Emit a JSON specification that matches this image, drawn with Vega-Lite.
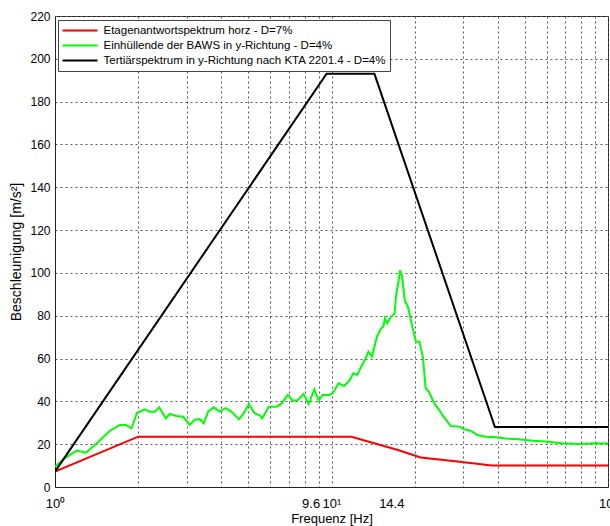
{
  "$schema": "https://vega.github.io/schema/vega-lite/v6.json",
  "width": 553,
  "height": 471,
  "autosize": "none",
  "padding": {"left": 55, "top": 16, "right": 2, "bottom": 39},
  "background": "white",
  "config": {
    "font": "Liberation Sans",
    "view": {"stroke": "#222", "strokeWidth": 1}
  },
  "data": {
    "values": [
      {"s": "Etagenantwortspektrum horz - D=7%", "f": 1, "a": 7.2},
      {"s": "Etagenantwortspektrum horz - D=7%", "f": 2, "a": 23.5},
      {"s": "Etagenantwortspektrum horz - D=7%", "f": 11.8, "a": 23.5},
      {"s": "Etagenantwortspektrum horz - D=7%", "f": 17.4, "a": 17.3},
      {"s": "Etagenantwortspektrum horz - D=7%", "f": 21, "a": 13.8},
      {"s": "Etagenantwortspektrum horz - D=7%", "f": 27.5, "a": 12.2},
      {"s": "Etagenantwortspektrum horz - D=7%", "f": 38, "a": 10},
      {"s": "Etagenantwortspektrum horz - D=7%", "f": 100, "a": 10},

      {"s": "Einhüllende der BAWS in y-Richtung - D=4%", "f": 1, "a": 9.5},
      {"s": "Einhüllende der BAWS in y-Richtung - D=4%", "f": 1.087, "a": 13.5},
      {"s": "Einhüllende der BAWS in y-Richtung - D=4%", "f": 1.198, "a": 17},
      {"s": "Einhüllende der BAWS in y-Richtung - D=4%", "f": 1.294, "a": 16},
      {"s": "Einhüllende der BAWS in y-Richtung - D=4%", "f": 1.433, "a": 21},
      {"s": "Einhüllende der BAWS in y-Richtung - D=4%", "f": 1.58, "a": 26.3},
      {"s": "Einhüllende der BAWS in y-Richtung - D=4%", "f": 1.717, "a": 29},
      {"s": "Einhüllende der BAWS in y-Richtung - D=4%", "f": 1.804, "a": 29},
      {"s": "Einhüllende der BAWS in y-Richtung - D=4%", "f": 1.892, "a": 27.4},
      {"s": "Einhüllende der BAWS in y-Richtung - D=4%", "f": 1.98, "a": 34.7},
      {"s": "Einhüllende der BAWS in y-Richtung - D=4%", "f": 2.113, "a": 36.3},
      {"s": "Einhüllende der BAWS in y-Richtung - D=4%", "f": 2.2, "a": 35.2},
      {"s": "Einhüllende der BAWS in y-Richtung - D=4%", "f": 2.297, "a": 35.2},
      {"s": "Einhüllende der BAWS in y-Richtung - D=4%", "f": 2.381, "a": 37.2},
      {"s": "Einhüllende der BAWS in y-Richtung - D=4%", "f": 2.516, "a": 32.1},
      {"s": "Einhüllende der BAWS in y-Richtung - D=4%", "f": 2.6, "a": 34.1},
      {"s": "Einhüllende der BAWS in y-Richtung - D=4%", "f": 2.75, "a": 33.2},
      {"s": "Einhüllende der BAWS in y-Richtung - D=4%", "f": 2.907, "a": 32.8},
      {"s": "Einhüllende der BAWS in y-Richtung - D=4%", "f": 3.07, "a": 29},
      {"s": "Einhüllende der BAWS in y-Richtung - D=4%", "f": 3.2, "a": 31.4},
      {"s": "Einhüllende der BAWS in y-Richtung - D=4%", "f": 3.34, "a": 31.7},
      {"s": "Einhüllende der BAWS in y-Richtung - D=4%", "f": 3.45, "a": 29.7},
      {"s": "Einhüllende der BAWS in y-Richtung - D=4%", "f": 3.58, "a": 35.2},
      {"s": "Einhüllende der BAWS in y-Richtung - D=4%", "f": 3.75, "a": 37.2},
      {"s": "Einhüllende der BAWS in y-Richtung - D=4%", "f": 3.94, "a": 35.2},
      {"s": "Einhüllende der BAWS in y-Richtung - D=4%", "f": 4.14, "a": 36.8},
      {"s": "Einhüllende der BAWS in y-Richtung - D=4%", "f": 4.34, "a": 35.2},
      {"s": "Einhüllende der BAWS in y-Richtung - D=4%", "f": 4.63, "a": 31.6},
      {"s": "Einhüllende der BAWS in y-Richtung - D=4%", "f": 4.81, "a": 34.4},
      {"s": "Einhüllende der BAWS in y-Richtung - D=4%", "f": 5.03, "a": 38.8},
      {"s": "Einhüllende der BAWS in y-Richtung - D=4%", "f": 5.27, "a": 34.4},
      {"s": "Einhüllende der BAWS in y-Richtung - D=4%", "f": 5.49, "a": 33.6},
      {"s": "Einhüllende der BAWS in y-Richtung - D=4%", "f": 5.62, "a": 32.1},
      {"s": "Einhüllende der BAWS in y-Richtung - D=4%", "f": 5.93, "a": 37.5},
      {"s": "Einhüllende der BAWS in y-Richtung - D=4%", "f": 6.33, "a": 37.5},
      {"s": "Einhüllende der BAWS in y-Richtung - D=4%", "f": 6.58, "a": 38.8},
      {"s": "Einhüllende der BAWS in y-Richtung - D=4%", "f": 6.95, "a": 43},
      {"s": "Einhüllende der BAWS in y-Richtung - D=4%", "f": 7.25, "a": 40.3},
      {"s": "Einhüllende der BAWS in y-Richtung - D=4%", "f": 7.56, "a": 40.6},
      {"s": "Einhüllende der BAWS in y-Richtung - D=4%", "f": 7.92, "a": 43.4},
      {"s": "Einhüllende der BAWS in y-Richtung - D=4%", "f": 8.27, "a": 38.8},
      {"s": "Einhüllende der BAWS in y-Richtung - D=4%", "f": 8.67, "a": 45.6},
      {"s": "Einhüllende der BAWS in y-Richtung - D=4%", "f": 8.98, "a": 40.3},
      {"s": "Einhüllende der BAWS in y-Richtung - D=4%", "f": 9.29, "a": 43},
      {"s": "Einhüllende der BAWS in y-Richtung - D=4%", "f": 9.82, "a": 43},
      {"s": "Einhüllende der BAWS in y-Richtung - D=4%", "f": 10.1, "a": 43.8},
      {"s": "Einhüllende der BAWS in y-Richtung - D=4%", "f": 10.6, "a": 48.4},
      {"s": "Einhüllende der BAWS in y-Richtung - D=4%", "f": 11.1, "a": 47.2},
      {"s": "Einhüllende der BAWS in y-Richtung - D=4%", "f": 11.6, "a": 49.7},
      {"s": "Einhüllende der BAWS in y-Richtung - D=4%", "f": 12.0, "a": 53.1},
      {"s": "Einhüllende der BAWS in y-Richtung - D=4%", "f": 12.4, "a": 52.3},
      {"s": "Einhüllende der BAWS in y-Richtung - D=4%", "f": 12.8, "a": 56.2},
      {"s": "Einhüllende der BAWS in y-Richtung - D=4%", "f": 13.3, "a": 60.1},
      {"s": "Einhüllende der BAWS in y-Richtung - D=4%", "f": 13.6, "a": 63.2},
      {"s": "Einhüllende der BAWS in y-Richtung - D=4%", "f": 14.0, "a": 60.9},
      {"s": "Einhüllende der BAWS in y-Richtung - D=4%", "f": 14.6, "a": 70.2},
      {"s": "Einhüllende der BAWS in y-Richtung - D=4%", "f": 15.1, "a": 74.1},
      {"s": "Einhüllende der BAWS in y-Richtung - D=4%", "f": 15.4, "a": 74.9},
      {"s": "Einhüllende der BAWS in y-Richtung - D=4%", "f": 15.6, "a": 78.8},
      {"s": "Einhüllende der BAWS in y-Richtung - D=4%", "f": 15.9, "a": 76.5},
      {"s": "Einhüllende der BAWS in y-Richtung - D=4%", "f": 16.4, "a": 79.5},
      {"s": "Einhüllende der BAWS in y-Richtung - D=4%", "f": 16.9, "a": 80.8},
      {"s": "Einhüllende der BAWS in y-Richtung - D=4%", "f": 17.1, "a": 88.9},
      {"s": "Einhüllende der BAWS in y-Richtung - D=4%", "f": 17.5, "a": 96.7},
      {"s": "Einhüllende der BAWS in y-Richtung - D=4%", "f": 17.7, "a": 101.2},
      {"s": "Einhüllende der BAWS in y-Richtung - D=4%", "f": 18.0, "a": 98.2},
      {"s": "Einhüllende der BAWS in y-Richtung - D=4%", "f": 18.4, "a": 87.3},
      {"s": "Einhüllende der BAWS in y-Richtung - D=4%", "f": 18.9, "a": 84.2},
      {"s": "Einhüllende der BAWS in y-Richtung - D=4%", "f": 19.6, "a": 74.9},
      {"s": "Einhüllende der BAWS in y-Richtung - D=4%", "f": 20.2, "a": 67.9},
      {"s": "Einhüllende der BAWS in y-Richtung - D=4%", "f": 20.8, "a": 67.9},
      {"s": "Einhüllende der BAWS in y-Richtung - D=4%", "f": 21.4, "a": 60.9},
      {"s": "Einhüllende der BAWS in y-Richtung - D=4%", "f": 21.9, "a": 46.1},
      {"s": "Einhüllende der BAWS in y-Richtung - D=4%", "f": 22.5, "a": 44.5},
      {"s": "Einhüllende der BAWS in y-Richtung - D=4%", "f": 23.7, "a": 38.3},
      {"s": "Einhüllende der BAWS in y-Richtung - D=4%", "f": 24.5, "a": 36.2},
      {"s": "Einhüllende der BAWS in y-Richtung - D=4%", "f": 25.2, "a": 33.6},
      {"s": "Einhüllende der BAWS in y-Richtung - D=4%", "f": 27.0, "a": 28.5},
      {"s": "Einhüllende der BAWS in y-Richtung - D=4%", "f": 29.0, "a": 28.2},
      {"s": "Einhüllende der BAWS in y-Richtung - D=4%", "f": 30.2, "a": 27},
      {"s": "Einhüllende der BAWS in y-Richtung - D=4%", "f": 31.9, "a": 26.3},
      {"s": "Einhüllende der BAWS in y-Richtung - D=4%", "f": 33.7, "a": 24.3},
      {"s": "Einhüllende der BAWS in y-Richtung - D=4%", "f": 36.0, "a": 23.5},
      {"s": "Einhüllende der BAWS in y-Richtung - D=4%", "f": 39.3, "a": 23.2},
      {"s": "Einhüllende der BAWS in y-Richtung - D=4%", "f": 42.6, "a": 22.6},
      {"s": "Einhüllende der BAWS in y-Richtung - D=4%", "f": 47.5, "a": 22.3},
      {"s": "Einhüllende der BAWS in y-Richtung - D=4%", "f": 53.3, "a": 21.6},
      {"s": "Einhüllende der BAWS in y-Richtung - D=4%", "f": 59.4, "a": 21.2},
      {"s": "Einhüllende der BAWS in y-Richtung - D=4%", "f": 68, "a": 20.4},
      {"s": "Einhüllende der BAWS in y-Richtung - D=4%", "f": 78.5, "a": 20.1},
      {"s": "Einhüllende der BAWS in y-Richtung - D=4%", "f": 90.3, "a": 20.4},
      {"s": "Einhüllende der BAWS in y-Richtung - D=4%", "f": 100, "a": 20.3},

      {"s": "Tertiärspektrum in y-Richtung nach KTA 2201.4 - D=4%", "f": 1, "a": 7.2},
      {"s": "Tertiärspektrum in y-Richtung nach KTA 2201.4 - D=4%", "f": 9.6, "a": 193},
      {"s": "Tertiärspektrum in y-Richtung nach KTA 2201.4 - D=4%", "f": 14.3, "a": 193},
      {"s": "Tertiärspektrum in y-Richtung nach KTA 2201.4 - D=4%", "f": 39, "a": 28},
      {"s": "Tertiärspektrum in y-Richtung nach KTA 2201.4 - D=4%", "f": 100, "a": 28}
    ]
  },
  "mark": {"type": "line", "strokeWidth": 2, "clip": true},
  "encoding": {
    "x": {
      "field": "f",
      "type": "quantitative",
      "scale": {"type": "log", "domain": [1, 100], "nice": false},
      "axis": {
        "values": [1, 2, 3, 4, 5, 6, 7, 8, 9, 9.6, 10, 14.4, 20, 30, 40, 50, 60, 70, 80, 90, 100],
        "labelExpr": "datum.value == 1 ? '10⁰' : datum.value == 10 ? '10¹' : datum.value == 100 ? '10²' : datum.value == 9.6 ? '9.6' : datum.value == 14.4 ? '14.4' : ''",
        "grid": true,
        "gridColor": "#555",
        "gridDash": [2, 3],
        "gridWidth": 1,
        "gridOpacity": {"condition": {"test": "datum.value == 9.6 || datum.value == 14.4", "value": 0}, "value": 1},
        "ticks": false,
        "domainColor": "#222",
        "labelOverlap": false,
        "labelFlush": false,
        "labelBound": false,
        "labelFontSize": 13,
        "labelColor": "#000",
        "labelPadding": 10,
        "labelOffset": {"condition": [{"test": "datum.value == 9.6", "value": -16}, {"test": "datum.value == 14.4", "value": 16}], "value": 0},
        "title": "Frequenz [Hz]",
        "titleFontSize": 13,
        "titleFontWeight": "normal",
        "titleColor": "#000",
        "titlePadding": 2
      }
    },
    "y": {
      "field": "a",
      "type": "quantitative",
      "scale": {"domain": [0, 220], "nice": false},
      "axis": {
        "values": [0, 20, 40, 60, 80, 100, 120, 140, 160, 180, 200, 220],
        "grid": true,
        "gridColor": "#555",
        "gridDash": [2, 3],
        "gridWidth": 1,
        "ticks": false,
        "domainColor": "#222",
        "labelFontSize": 12,
        "labelColor": "#000",
        "labelPadding": 5,
        "labelOverlap": false,
        "labelFlush": false,
        "title": "Beschleunigung [m/s²]",
        "titleFontSize": 14,
        "titleFontWeight": "normal",
        "titleColor": "#000",
        "titlePadding": 6
      }
    },
    "color": {
      "field": "s",
      "type": "nominal",
      "sort": null,
      "scale": {
        "domain": ["Etagenantwortspektrum horz - D=7%", "Einhüllende der BAWS in y-Richtung - D=4%", "Tertiärspektrum in y-Richtung nach KTA 2201.4 - D=4%"],
        "range": ["#ff0000", "#00ff00", "#000000"]
      },
      "legend": {
        "title": null,
        "orient": "none",
        "legendX": 3,
        "legendY": 4,
        "symbolType": "stroke",
        "symbolSize": 1225,
        "symbolStrokeWidth": 2,
        "clipHeight": 14,
        "labelFontSize": 11.5,
        "labelColor": "#000",
        "labelLimit": 400,
        "labelOffset": 5,
        "padding": 3.5,
        "rowPadding": 1,
        "fillColor": "white",
        "strokeColor": "#444",
        "cornerRadius": 0
      }
    }
  }
}
